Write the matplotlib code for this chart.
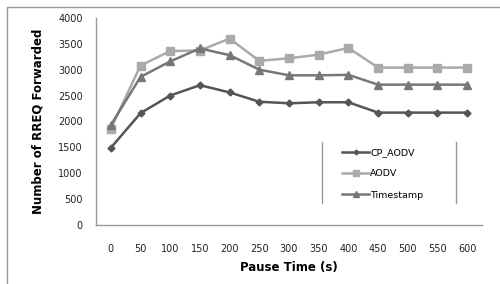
import matplotlib.pyplot as plt
from matplotlib.patches import Rectangle
from matplotlib.lines import Line2D

# Data
pause = ['0', '50', '100', '150', '200', '250', '300', '350', '400',
         '450', '500', '550', '600']
cp_aodv = [1490, 2160, 2500, 2700, 2560, 2380, 2350, 2370, 2370,
           2170, 2170, 2170, 2170]
aodv = [1860, 3080, 3360, 3370, 3600, 3170, 3220, 3290, 3420,
        3040, 3040, 3040, 3040]
timestamp = [1930, 2860, 3160, 3410, 3280, 3000, 2890, 2890, 2900,
             2710, 2710, 2710, 2710]

fig = plt.figure(figsize=(5, 2.84), dpi=100)
ax = fig.add_axes([0.192, 0.208, 0.772, 0.729])

xs = range(len(pause))
ax.plot(xs, cp_aodv, color='#555555', lw=1.8, marker='D', ms=3.5, label='CP_AODV')
ax.plot(xs, aodv, color='#aaaaaa', lw=1.8, marker='s', ms=6, label='AODV')
ax.plot(xs, timestamp, color='#777777', lw=1.8, marker='^', ms=6, label='Timestamp')

ax.set_xlim(-0.5, len(pause) - 0.5)
ax.set_ylim(0, 4000)
ax.set_yticks(range(0, 4001, 500))
ax.set_xticks(list(xs))
ax.set_xticklabels(pause)
ax.tick_params(length=0, labelsize=7, colors='#222222')
ax.tick_params(axis='x', pad=14)
ax.tick_params(axis='y', pad=9.4)

for s in ['top', 'right']:
    ax.spines[s].set_visible(False)
for s in ['left', 'bottom']:
    ax.spines[s].set_color('#999999')
    ax.spines[s].set_linewidth(1)

ax.set_xlabel('Pause Time (s)', fontsize=8.5, fontweight='bold', labelpad=5)
ax.set_ylabel('Number of RREQ Forwarded', fontsize=8.5, fontweight='bold', labelpad=10)

leg = fig.legend(loc='upper left', bbox_to_anchor=(342 / 500, 1 - 148 / 284),
                 frameon=False, fontsize=6.8, handlelength=2.9, handletextpad=0.1,
                 labelspacing=1.3, borderpad=0, borderaxespad=0, markerscale=0.7)

# legend side bars
for xf in [322 / 500, 456 / 500]:
    fig.add_artist(Line2D([xf, xf], [1 - 142 / 284, 1 - 203 / 284],
                          color='#999999', lw=1))

# outer chart border
fig.add_artist(Rectangle((7 / 500, -0.05), 1.1, 1 - 7 / 284 + 0.05,
                         fill=False, edgecolor='#999999', lw=1))

fig.savefig('out.png', dpi=100)
